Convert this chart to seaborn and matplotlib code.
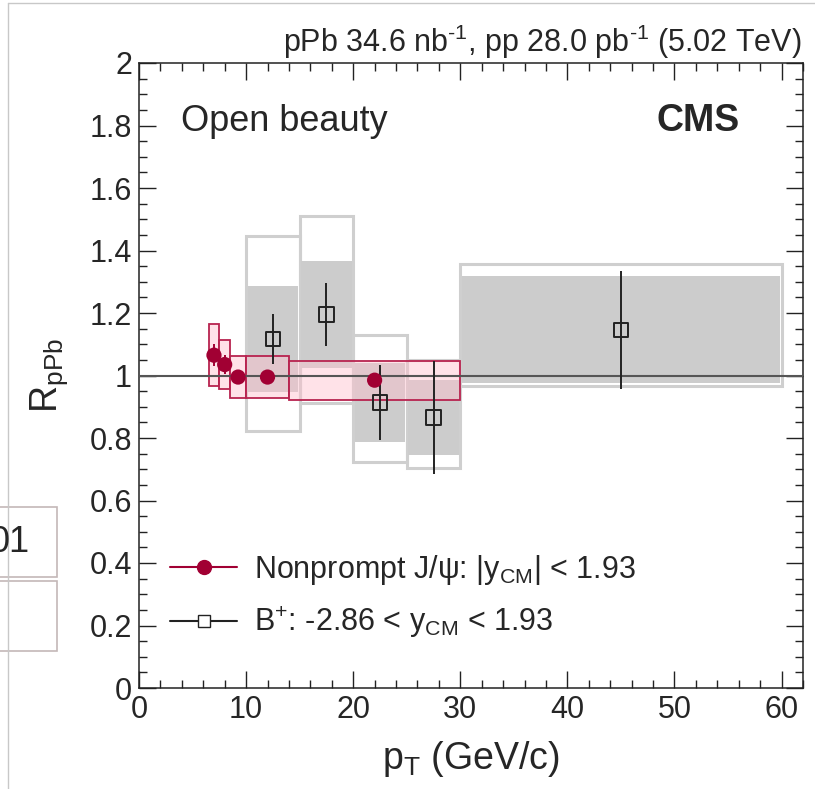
import matplotlib
matplotlib.use("Agg")
import matplotlib.pyplot as plt
import seaborn as sns
import pandas as pd
from matplotlib.patches import Rectangle
from matplotlib.lines import Line2D
from matplotlib.ticker import MultipleLocator

# ---- Nonprompt J/psi, |y_CM| < 1.93 ----
jpsi_pt = [7.0, 8.0, 9.25, 12.0, 22.0]
jpsi_bin_lo = [6.5, 7.5, 8.5, 10.0, 14.0]
jpsi_bin_hi = [7.5, 8.5, 10.0, 14.0, 30.0]
jpsi_r = [1.065, 1.035, 0.995, 0.995, 0.985]
jpsi_stat = [0.035, 0.030, 0.015, 0.012, 0.012]
jpsi_syst = [0.100, 0.078, 0.068, 0.068, 0.062]

# ---- B+, -2.86 < y_CM < 1.93 ----
bp_pt = [12.5, 17.5, 22.5, 27.5, 45.0]
bp_bin_lo = [10.0, 15.0, 20.0, 25.0, 30.0]
bp_bin_hi = [15.0, 20.0, 25.0, 30.0, 60.0]
bp_r = [1.117, 1.196, 0.913, 0.865, 1.146]
bp_stat = [0.080, 0.100, 0.120, 0.180, 0.190]
bp_syst = [0.171, 0.172, 0.126, 0.120, 0.171]
bp_tot_up = [0.330, 0.314, 0.217, 0.185, 0.212]
bp_tot_dn = [0.293, 0.283, 0.191, 0.162, 0.180]

x_ticks = [0, 10, 20, 30, 40, 50, 60]
y_ticks = [0, 0.2, 0.4, 0.6, 0.8, 1, 1.2, 1.4, 1.6, 1.8, 2]

RED = "#a10033"
RED_EDGE = "#b8234f"
GREY_FILL = "#cccccc"
GREY_EDGE = "#cfcfcf"

sns.set_theme(style="ticks")
plt.rcParams["font.family"] = ["Liberation Sans", "DejaVu Sans"]
plt.rcParams["mathtext.fontset"] = "custom"
plt.rcParams["mathtext.rm"] = "Liberation Sans"
plt.rcParams["mathtext.it"] = "Liberation Sans"
plt.rcParams["mathtext.sf"] = "Liberation Sans"

fig = plt.figure(figsize=(8.15, 7.89), dpi=100)
ax = fig.add_axes([139 / 815, 1 - 688 / 789, 664 / 815, 625 / 789])

jpsi = pd.DataFrame({"pt": jpsi_pt, "lo": jpsi_bin_lo, "hi": jpsi_bin_hi,
                     "r": jpsi_r, "stat": jpsi_stat, "syst": jpsi_syst})
bp = pd.DataFrame({"pt": bp_pt, "lo": bp_bin_lo, "hi": bp_bin_hi, "r": bp_r,
                   "stat": bp_stat, "syst": bp_syst,
                   "up": bp_tot_up, "dn": bp_tot_dn})

# B+ boxes: total uncertainty as open boxes, systematic part filled
for row in bp.itertuples():
    ax.add_patch(Rectangle((row.lo, row.r - row.dn), row.hi - row.lo,
                           row.up + row.dn, facecolor="none",
                           edgecolor=GREY_EDGE, lw=2.2, zorder=1))
for row in bp.itertuples():
    ax.add_patch(Rectangle((row.lo + 0.15, row.r - row.syst),
                           row.hi - row.lo - 0.3, 2 * row.syst,
                           facecolor=GREY_FILL, edgecolor="none", zorder=2))

# J/psi systematic boxes
for row in jpsi.itertuples():
    ax.add_patch(Rectangle((row.lo, row.r - row.syst), row.hi - row.lo,
                           2 * row.syst, facecolor=(1.0, 0.75, 0.8, 0.45),
                           edgecolor=RED_EDGE, lw=1.3, zorder=3))

ax.axhline(1.0, color="#555555", lw=1.5, zorder=4)

# statistical uncertainties
ax.errorbar(bp["pt"], bp["r"], yerr=bp["stat"], fmt="none",
            ecolor="#222222", elinewidth=1.4, capsize=0, zorder=5)
ax.errorbar(jpsi["pt"], jpsi["r"], yerr=jpsi["stat"], fmt="none",
            ecolor=RED, elinewidth=1.4, capsize=0, zorder=5)

sns.scatterplot(data=bp, x="pt", y="r", marker="s", s=110,
                facecolor="none", edgecolor="#222222", linewidth=1.4,
                zorder=6, ax=ax, legend=False)
sns.scatterplot(data=jpsi, x="pt", y="r", marker="o", s=120, color=RED,
                edgecolor="none", zorder=7, ax=ax, legend=False)

ax.set_xlim(0, 62)
ax.set_ylim(0, 2)
ax.set_xticks(x_ticks)
ax.set_yticks(y_ticks)
ax.set_xticklabels([str(v) for v in x_ticks])
ax.set_yticklabels([f"{v:g}" for v in y_ticks])
ax.xaxis.set_minor_locator(MultipleLocator(2))
ax.yaxis.set_minor_locator(MultipleLocator(0.05))
ax.tick_params(which="both", direction="in", top=True, right=True,
               color="#222222", width=1.0)
ax.tick_params(which="major", length=12.5, labelsize=22, pad=5)
ax.tick_params(which="minor", length=6)
for sp in ax.spines.values():
    sp.set_linewidth(1.1)
    sp.set_color("#222222")

ax.set_xlabel(r"p$_{\mathrm{T}}$ (GeV/c)", fontsize=27, labelpad=10)
ax.set_ylabel(r"R$_{\mathrm{pPb}}$", fontsize=27, labelpad=14)

ax.text(0.063, 0.891, "Open beauty", transform=ax.transAxes,
        fontsize=26, ha="left", va="baseline")
ax.text(0.905, 0.891, "CMS", transform=ax.transAxes, fontsize=27,
        fontweight="bold", ha="right", va="baseline")
fig.text(802 / 815, 1 - 52 / 789,
         r"pPb 34.6 nb$^{\text{-}1}$, pp 28.0 pb$^{\text{-}1}$ (5.02 TeV)",
         fontsize=22, ha="right", va="baseline")

handles = [
    Line2D([0], [0], color=RED, lw=1.5, marker="o", ms=10, mec=RED),
    Line2D([0], [0], color="#222222", lw=1.5, marker="s", ms=9,
           mfc="white", mec="#222222"),
]
labels = [r"Nonprompt J/$\psi$: |y$_{\mathrm{CM}}$| < 1.93",
          r"B$^{+}$: -2.86 < y$_{\mathrm{CM}}$ < 1.93"]
ax.legend(handles, labels, loc="lower left", bbox_to_anchor=(0.047, 0.076),
          frameon=False, fontsize=22, handlelength=2.2, handletextpad=0.55,
          labelspacing=0.6, borderpad=0, borderaxespad=0)

# page frame and neighbouring boxes in the left margin
grey = "#c8c8c8"
fig.add_artist(Line2D([8 / 815, 8 / 815], [0, 1 - 3 / 789], color=grey,
                      lw=1.0, transform=fig.transFigure))
fig.add_artist(Line2D([8 / 815, 1], [1 - 3 / 789, 1 - 3 / 789], color=grey,
                      lw=1.0, transform=fig.transFigure))
for top, bot in [(507, 577), (581, 651)]:
    fig.add_artist(Rectangle((-0.01, 1 - bot / 789), 57 / 815 + 0.01,
                             (bot - top) / 789, transform=fig.transFigure,
                             facecolor="none", edgecolor="#c4b8b8", lw=1.2))
fig.text(30 / 815, 1 - 542 / 789, "01", fontsize=26, ha="right", va="center")

fig.savefig("out.png", dpi=100)
